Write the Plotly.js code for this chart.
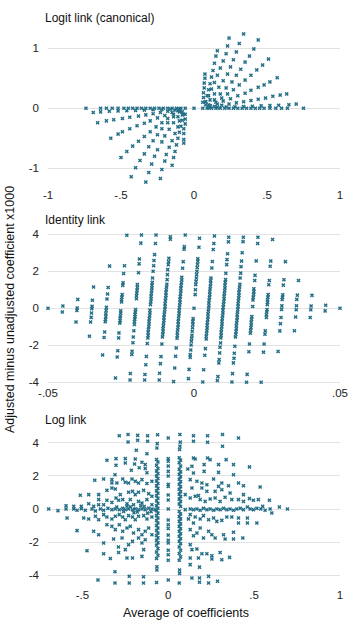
<!DOCTYPE html>
<html>
<head>
<meta charset="utf-8">
<script src="https://cdn.plot.ly/plotly-3.0.1.min.js"></script>
<style>
  body { margin: 0; background: #fff; }
  #chart { width: 360px; height: 630px; }
</style>
</head>
<body>
<div id="chart"></div>
<script>
// ---- data: [average of coefficients, adjusted - unadjusted x1000] ----

// logit link, negative side (rays fanning down-left)
const logitLeft = [
  [-0.74,0],[-0.64,0],[-0.6,0],[-0.56,0],[-0.52,0],[-0.48,0],[-0.45,0],[-0.42,0],[-0.39,0],[-0.36,0],
  [-0.33,0],[-0.3,0],[-0.27,0],[-0.24,0],[-0.21,0],[-0.18,0],[-0.15,0],[-0.12,0],[-0.09,0],[-0.06,0],
  [-0.69,-0.07],[-0.64,-0.06],[-0.58,-0.05],[-0.52,-0.045],[-0.46,-0.04],[-0.4,-0.035],[-0.34,-0.03],[-0.28,-0.025],[-0.22,-0.02],[-0.16,-0.015],[-0.1,-0.01],
  [-0.66,-0.24],[-0.6,-0.21],[-0.55,-0.19],[-0.49,-0.17],[-0.44,-0.15],[-0.38,-0.13],[-0.33,-0.11],[-0.28,-0.09],[-0.23,-0.07],[-0.18,-0.05],[-0.13,-0.03],
  [-0.57,-0.5],[-0.52,-0.43],[-0.49,-0.39],[-0.44,-0.34],[-0.39,-0.29],[-0.34,-0.25],[-0.3,-0.21],[-0.25,-0.16],[-0.2,-0.12],[-0.15,-0.07],[-0.11,-0.04],
  [-0.5,-0.82],[-0.46,-0.72],[-0.42,-0.63],[-0.38,-0.55],[-0.34,-0.47],[-0.3,-0.39],[-0.26,-0.31],[-0.22,-0.24],[-0.18,-0.17],[-0.14,-0.1],[-0.1,-0.04],
  [-0.43,-1.14],[-0.4,-0.99],[-0.37,-0.87],[-0.34,-0.76],[-0.31,-0.64],[-0.28,-0.54],[-0.25,-0.44],[-0.22,-0.34],[-0.18,-0.24],[-0.14,-0.14],[-0.1,-0.06],
  [-0.33,-1.23],[-0.31,-1.07],[-0.29,-0.93],[-0.27,-0.8],[-0.25,-0.69],[-0.22,-0.56],[-0.2,-0.46],[-0.17,-0.35],[-0.14,-0.24],[-0.11,-0.14],[-0.08,-0.06],
  [-0.23,-1.17],[-0.22,-1.02],[-0.2,-0.88],[-0.19,-0.77],[-0.17,-0.65],[-0.15,-0.54],[-0.13,-0.42],[-0.11,-0.31],[-0.1,-0.21],[-0.08,-0.11],
  [-0.15,-0.95],[-0.14,-0.82],[-0.13,-0.72],[-0.12,-0.61],[-0.11,-0.5],[-0.1,-0.4],[-0.09,-0.3],[-0.08,-0.2],[-0.07,-0.1],
  [-0.07,-0.58],[-0.07,-0.52],[-0.07,-0.42],[-0.07,-0.34],[-0.06,-0.26],[-0.06,-0.18],[-0.06,-0.1]
]

// logit link, positive side (rays fanning up-right)
const logitRight = [
  [0,0],
  [0.06,0],[0.09,0],[0.12,0],[0.15,0],[0.18,0],[0.21,0],[0.24,0],[0.27,0],[0.3,0],[0.33,0],
  [0.36,0],[0.39,0],[0.42,0],[0.45,0],[0.48,0],[0.52,0],[0.56,0],[0.6,0],[0.64,0],[0.75,0],
  [0.7,0.07],[0.65,0.06],[0.58,0.05],[0.52,0.045],[0.46,0.04],[0.4,0.035],[0.34,0.03],[0.28,0.025],[0.22,0.02],[0.16,0.015],[0.1,0.01],
  [0.635,0.24],[0.59,0.22],[0.54,0.2],[0.49,0.17],[0.44,0.15],[0.39,0.13],[0.34,0.11],[0.29,0.09],[0.24,0.07],[0.19,0.05],[0.14,0.03],
  [0.57,0.51],[0.52,0.44],[0.48,0.39],[0.44,0.35],[0.39,0.3],[0.35,0.25],[0.3,0.21],[0.25,0.16],[0.2,0.12],[0.16,0.07],[0.11,0.04],
  [0.51,0.82],[0.47,0.72],[0.43,0.64],[0.39,0.55],[0.35,0.47],[0.31,0.39],[0.27,0.31],[0.23,0.24],[0.19,0.17],[0.15,0.1],[0.11,0.04],
  [0.44,1.14],[0.41,0.99],[0.38,0.87],[0.35,0.77],[0.32,0.65],[0.29,0.55],[0.26,0.44],[0.22,0.34],[0.18,0.24],[0.14,0.14],[0.1,0.06],
  [0.34,1.24],[0.31,1.08],[0.29,0.94],[0.27,0.81],[0.25,0.69],[0.23,0.57],[0.2,0.46],[0.17,0.35],[0.14,0.24],[0.11,0.14],[0.08,0.06],
  [0.24,1.17],[0.23,1.04],[0.22,0.91],[0.2,0.79],[0.18,0.67],[0.16,0.55],[0.14,0.43],[0.12,0.32],[0.1,0.21],[0.08,0.11],
  [0.16,0.96],[0.15,0.87],[0.14,0.75],[0.13,0.63],[0.12,0.52],[0.11,0.41],[0.1,0.31],[0.09,0.21],[0.08,0.11],
  [0.075,0.57],[0.075,0.5],[0.07,0.42],[0.07,0.34],[0.065,0.26],[0.065,0.18],[0.06,0.1]
]

// identity link, columns left of zero
const identityNeg = [
  [-0.05,0],
  [-0.0449,0.12],[-0.0451,-0.2],
  [-0.0398,0.48],[-0.04,0.02],[-0.0401,-0.12],[-0.0404,-0.74],
  [-0.0344,1.15],[-0.0348,0.43],[-0.0349,0.11],[-0.035,-0.02],[-0.0351,-0.25],[-0.0352,-0.49],[-0.0354,-0.74],[-0.0358,-1.51],
  [-0.0289,2.28],[-0.0294,1.12],[-0.0296,0.77],[-0.0298,0.5],[-0.03,0.05],[-0.0301,-0.12],[-0.0302,-0.3],[-0.0302,-0.45],[-0.0303,-0.6],[-0.0304,-0.72],[-0.0306,-1.28],[-0.0308,-1.58],[-0.0313,-2.52],
  [-0.023,3.95],[-0.0238,2.3],[-0.0241,1.88],[-0.0243,1.38],[-0.0244,1.24],[-0.0246,0.74],[-0.0247,0.6],[-0.0248,0.46],[-0.0248,0.34],[-0.0251,-0.13],[-0.0251,-0.27],[-0.0252,-0.4],[-0.0253,-0.54],[-0.0253,-0.67],[-0.0254,-0.8],[-0.0257,-1.33],[-0.0258,-1.6],[-0.0261,-2.29],[-0.0263,-2.63],[-0.0269,-3.77],
  [-0.018,3.96],[-0.0182,3.52],[-0.0187,2.66],[-0.0188,2.4],[-0.019,1.92],[-0.0194,1.28],[-0.0194,1.12],[-0.0195,0.97],[-0.0196,0.82],[-0.0197,0.67],[-0.0197,0.52],[-0.02,-0.07],[-0.0201,-0.2],[-0.0202,-0.33],[-0.0202,-0.46],[-0.0203,-0.59],[-0.0204,-0.72],[-0.0204,-0.88],[-0.0206,-1.21],[-0.0208,-1.55],[-0.0209,-1.86],[-0.0212,-2.32],[-0.0213,-2.5],[-0.0218,-3.52],[-0.0219,-3.87],
  [-0.013,3.96],[-0.0132,3.5],[-0.0135,2.9],[-0.0137,2.58],[-0.0138,2.3],[-0.014,2.0],[-0.0142,1.64],[-0.0143,1.4],[-0.0144,1.25],[-0.0144,1.1],[-0.0145,0.95],[-0.0146,0.8],[-0.0147,0.65],[-0.0147,0.5],[-0.0148,0.35],[-0.0149,0.2],[-0.0151,-0.1],[-0.0151,-0.25],[-0.0152,-0.4],[-0.0153,-0.55],[-0.0154,-0.7],[-0.0154,-0.85],[-0.0155,-1.0],[-0.0156,-1.15],[-0.0157,-1.3],[-0.0157,-1.45],[-0.0158,-1.6],[-0.016,-1.9],[-0.0163,-2.6],[-0.0165,-3.05],[-0.0168,-3.58],[-0.0169,-3.87],
  [-0.0081,3.87],[-0.0081,3.73],[-0.0086,2.7],[-0.0087,2.52],[-0.0088,2.36],[-0.009,2.09],[-0.0091,1.82],[-0.0092,1.55],[-0.0093,1.3],[-0.0094,1.15],[-0.0095,1.0],[-0.0096,0.85],[-0.0096,0.7],[-0.0097,0.55],[-0.0098,0.4],[-0.0099,0.25],[-0.0099,0.1],[-0.01,-0.05],[-0.0101,-0.2],[-0.0102,-0.35],[-0.0103,-0.5],[-0.0103,-0.65],[-0.0104,-0.8],[-0.0105,-0.95],[-0.0106,-1.1],[-0.0106,-1.25],[-0.0107,-1.4],[-0.0108,-1.55],[-0.011,-1.93],[-0.0113,-2.61],[-0.0115,-2.99],[-0.0118,-3.51],[-0.0119,-3.87],
  [-0.003,3.96],[-0.0033,3.33],[-0.0034,3.19],[-0.0037,2.52],[-0.0039,2.16],[-0.0042,1.68],[-0.0042,1.53],[-0.0043,1.38],[-0.0044,1.23],[-0.0045,1.08],[-0.0045,0.93],[-0.0046,0.78],[-0.0047,0.63],[-0.0048,0.48],[-0.0048,0.33],[-0.0049,0.18],[-0.005,0.03],[-0.0051,-0.12],[-0.0051,-0.27],[-0.0052,-0.42],[-0.0053,-0.57],[-0.0054,-0.72],[-0.0054,-0.87],[-0.0055,-1.02],[-0.0056,-1.17],[-0.0057,-1.32],[-0.0057,-1.47],[-0.0058,-1.62],[-0.0061,-2.14],[-0.0063,-2.59],[-0.0066,-3.23],[-0.007,-3.96]
]

// identity link, zero column and columns right of zero
const identityPos = [
  [0.0019,3.78],[0.0017,3.3],[0.0013,2.68],[0.0013,2.54],[0.0012,2.38],[0.0011,2.2],[0.001,2.0],[0.0009,1.82],[0.0008,1.64],[0.0007,1.46],[0.0006,1.28],[0.0005,1.0],[0.0004,0.74],[0,0],[-0.0003,-0.56],[-0.0004,-0.72],[-0.0004,-0.88],[-0.0005,-1.05],[-0.0006,-1.24],[-0.0007,-1.46],[-0.0008,-1.62],[-0.0009,-1.78],[-0.001,-1.98],[-0.0011,-2.25],[-0.0013,-2.5],[-0.0013,-2.65],[-0.0017,-3.3],[-0.0019,-3.8],
  [0.007,3.91],[0.0068,3.5],[0.0066,3.18],[0.0063,2.53],[0.0061,2.18],[0.0058,1.64],[0.0057,1.49],[0.0057,1.34],[0.0056,1.19],[0.0055,1.04],[0.0054,0.89],[0.0054,0.74],[0.0053,0.59],[0.0052,0.44],[0.0051,0.29],[0.0051,0.14],[0.005,-0.01],[0.0049,-0.16],[0.0048,-0.31],[0.0048,-0.46],[0.0047,-0.61],[0.0046,-0.76],[0.0045,-0.91],[0.0045,-1.06],[0.0044,-1.21],[0.0043,-1.36],[0.0042,-1.51],[0.0042,-1.66],[0.0039,-2.18],[0.0037,-2.54],[0.0033,-3.32],[0.003,-3.98],
  [0.0119,3.84],[0.0118,3.59],[0.0115,2.95],[0.0113,2.63],[0.0112,2.36],[0.0109,1.89],[0.0108,1.55],[0.0107,1.4],[0.0106,1.25],[0.0106,1.1],[0.0105,0.95],[0.0104,0.8],[0.0103,0.65],[0.0103,0.5],[0.0102,0.35],[0.0101,0.2],[0.01,0.05],[0.0099,-0.1],[0.0099,-0.25],[0.0098,-0.4],[0.0097,-0.55],[0.0096,-0.7],[0.0096,-0.85],[0.0095,-1.0],[0.0094,-1.15],[0.0093,-1.3],[0.0093,-1.45],[0.0092,-1.6],[0.0091,-1.87],[0.0089,-2.1],[0.0088,-2.41],[0.0086,-2.77],[0.0085,-2.95],[0.0082,-3.69],[0.008,-3.9],
  [0.0169,3.84],[0.0168,3.6],[0.0165,3.0],[0.0163,2.55],[0.0161,2.25],[0.016,1.9],[0.0158,1.64],[0.0157,1.3],[0.0156,1.15],[0.0155,1.0],[0.0154,0.85],[0.0154,0.7],[0.0153,0.55],[0.0152,0.4],[0.0151,0.25],[0.0151,0.1],[0.015,-0.05],[0.0149,-0.2],[0.0148,-0.35],[0.0148,-0.5],[0.0147,-0.65],[0.0146,-0.8],[0.0145,-0.95],[0.0145,-1.1],[0.0144,-1.25],[0.0143,-1.4],[0.0142,-1.55],[0.014,-2.05],[0.0138,-2.43],[0.0137,-2.7],[0.0135,-2.95],[0.0132,-3.53],[0.013,-3.98],
  [0.0219,3.84],[0.0218,3.5],[0.0213,2.56],[0.0209,1.78],[0.0208,1.5],[0.0205,1.05],[0.0205,0.9],[0.0204,0.75],[0.0203,0.6],[0.0202,0.45],[0.0201,0.1],[0.0198,-0.45],[0.0197,-0.6],[0.0196,-0.75],[0.0196,-0.9],[0.0195,-1.05],[0.0194,-1.2],[0.0193,-1.35],[0.019,-1.93],[0.0188,-2.35],[0.0182,-3.57],[0.018,-4.0],
  [0.0269,3.72],[0.0263,2.55],[0.0261,2.27],[0.0258,1.5],[0.0256,1.27],[0.0254,0.74],[0.0253,0.6],[0.0252,0.46],[0.0252,0.32],[0.0251,0.2],[0.025,-0.07],[0.0249,-0.2],[0.0248,-0.35],[0.0248,-0.5],[0.0244,-1.22],[0.0243,-1.4],[0.024,-1.93],[0.0238,-2.37],[0.023,-4.0],
  [0.0313,2.52],[0.0308,1.54],[0.0306,1.25],[0.0304,0.73],[0.0303,0.6],[0.0302,0.48],[0.0301,0.13],[0.03,-0.06],[0.0298,-0.5],[0.0296,-0.83],[0.0294,-1.22],[0.0288,-2.33],
  [0.0358,1.5],[0.0354,0.71],[0.0352,0.48],[0.0351,0.14],[0.035,-0.08],[0.0348,-0.47],[0.0344,-1.21],
  [0.0404,0.7],[0.0401,0.12],[0.04,-0.08],[0.0398,-0.5],
  [0.0451,0.16],[0.0449,-0.14],
  [0.05,0]
]

// log link, the three vertical stacks near zero
const logColumns = [
  [-0.062,4.5],[-0.064,3.96],[-0.066,3.7],[-0.068,3.0],[-0.06,2.85],[-0.068,2.65],[-0.06,2.45],[-0.068,2.3],[-0.06,2.15],[-0.068,2.0],[-0.06,1.85],[-0.068,1.7],[-0.06,1.55],[-0.068,1.4],[-0.06,1.25],[-0.068,1.1],[-0.06,0.95],[-0.068,0.8],[-0.06,0.65],[-0.068,0.5],[-0.06,0.35],[-0.068,0.2],[-0.06,0.05],[-0.068,-0.1],[-0.06,-0.25],[-0.068,-0.4],[-0.06,-0.55],[-0.068,-0.7],[-0.06,-0.85],[-0.068,-1.0],[-0.06,-1.15],[-0.068,-1.3],[-0.06,-1.45],[-0.068,-1.6],[-0.06,-1.75],[-0.068,-1.9],[-0.06,-2.05],[-0.068,-2.2],[-0.06,-2.4],[-0.068,-2.6],[-0.06,-2.8],[-0.068,-3.0],[-0.066,-3.5],[-0.066,-3.7],[-0.068,-4.45],
  [0,4.3],[0,3.05],[0,2.9],[0,2.6],[0,2.28],[0,2.0],[0,1.5],[0,1.36],[0,0.85],[0,0.55],[0,0],[0,-0.67],[0,-0.95],[0,-1.18],[0,-1.58],[0,-1.89],[0,-2.06],[0,-2.5],[0,-2.77],[0,-3.1],[0,-4.3],
  [0.068,4.51],[0.07,4.05],[0.068,3.8],[0.066,3.6],[0.064,3.1],[0.072,2.95],[0.064,2.8],[0.072,2.6],[0.064,2.4],[0.072,2.25],[0.064,2.1],[0.072,1.95],[0.064,1.8],[0.072,1.65],[0.064,1.5],[0.072,1.35],[0.064,1.2],[0.072,1.05],[0.064,0.9],[0.072,0.75],[0.064,0.6],[0.072,0.45],[0.064,0.3],[0.072,0.15],[0.064,-0.15],[0.072,-0.3],[0.064,-0.45],[0.072,-0.6],[0.064,-0.75],[0.072,-0.9],[0.064,-1.05],[0.072,-1.2],[0.064,-1.35],[0.072,-1.5],[0.064,-1.65],[0.072,-1.8],[0.064,-1.95],[0.072,-2.1],[0.064,-2.3],[0.072,-2.5],[0.064,-2.7],[0.072,-2.9],[0.064,-3.1],[0.066,-3.7],[0.066,-3.9],[0.064,-4.48]
]

// log link, scatter left of the stacks
const logLeft = [
  [-0.285,4.44],[-0.234,4.51],[-0.234,4.06],[-0.178,4.46],[-0.178,4.16],[-0.12,4.44],[-0.12,4.1],
  [-0.186,3.56],[-0.124,3.35],
  [-0.357,2.95],[-0.304,3.05],[-0.304,2.65],[-0.25,3.05],[-0.25,2.79],[-0.192,3.03],[-0.196,2.73],[-0.153,2.83],[-0.134,2.69],
  [-0.31,2.07],[-0.215,2.35],[-0.169,2.5],[-0.134,2.45],[-0.124,2.2],
  [-0.428,1.74],[-0.376,1.82],[-0.328,1.78],[-0.328,1.58],[-0.299,1.58],[-0.265,1.82],[-0.25,1.62],[-0.231,1.58],[-0.211,1.82],[-0.192,1.68],[-0.173,1.58],[-0.153,1.78],[-0.124,1.54],[-0.095,1.68],
  [-0.512,0.83],[-0.463,0.87],[-0.405,0.87],[-0.405,0.57],[-0.357,1.13],[-0.328,1.27],[-0.308,1.21],[-0.279,0.87],[-0.231,1.01],[-0.208,1.07],[-0.192,0.87],[-0.173,1.01],[-0.143,1.13],[-0.114,0.93],[-0.095,0.77],
  [-0.595,0.2],[-0.55,0.16],[-0.506,0.16],[-0.463,0.32],[-0.434,0.16],[-0.405,0.26],[-0.376,0.26],[-0.357,0.53],[-0.328,0.4],[-0.304,0.67],[-0.289,0.53],[-0.265,0.57],[-0.24,0.32],[-0.221,0.57],[-0.202,0.26],[-0.173,0.46],[-0.153,0.36],[-0.124,0.57],[-0.095,0.26],
  [-0.696,0],[-0.642,-0.1],[-0.595,0],[-0.55,0],[-0.531,-0.08],[-0.506,0.02],[-0.483,-0.08],[-0.444,0],[-0.424,-0.12],[-0.395,0],[-0.376,-0.08],[-0.351,0.04],[-0.328,-0.04],[-0.308,0],[-0.285,-0.04],[-0.265,0.04],[-0.25,-0.04],[-0.231,0],[-0.208,-0.04],[-0.192,0.02],[-0.173,-0.04],[-0.153,0],[-0.134,-0.04],[-0.114,0.04],[-0.095,0],[-0.076,-0.04],
  [-0.3,0.12],[-0.26,-0.15],[-0.22,0.14],[-0.18,-0.18],[-0.14,0.15],[-0.1,-0.16],[-0.16,0.2],[-0.12,-0.25],[-0.2,-0.22],[-0.24,0.18],
  [-0.589,-0.55],[-0.492,-0.55],[-0.463,-0.61],[-0.424,-0.44],[-0.405,-0.65],[-0.376,-0.34],[-0.357,-0.48],[-0.328,-0.61],[-0.308,-0.44],[-0.285,-0.34],[-0.265,-0.48],[-0.25,-0.65],[-0.231,-0.4],[-0.208,-0.48],[-0.192,-0.65],[-0.173,-0.44],[-0.143,-0.4],[-0.124,-0.61],[-0.095,-0.48],
  [-0.531,-1.31],[-0.434,-1.35],[-0.405,-1.56],[-0.357,-0.95],[-0.328,-1.05],[-0.308,-1.25],[-0.285,-0.95],[-0.265,-1.35],[-0.24,-1.15],[-0.221,-1.05],[-0.202,-1.45],[-0.173,-1.25],[-0.153,-1.56],[-0.134,-1.35],[-0.114,-1.15],[-0.095,-1.56],
  [-0.376,-2.06],[-0.318,-1.82],[-0.269,-1.76],[-0.231,-2.16],[-0.208,-1.96],[-0.173,-1.76],[-0.153,-2.06],[-0.134,-1.86],
  [-0.473,-2.53],[-0.376,-2.71],[-0.289,-2.63],[-0.25,-2.46],[-0.24,-2.97],[-0.208,-2.97],[-0.153,-2.87],[-0.143,-2.46],[-0.337,-3.0],[-0.29,-2.3],
  [-0.409,-4.3],[-0.31,-3.8],[-0.31,-4.48],[-0.227,-4.07],[-0.227,-4.48],[-0.144,-4.1],[-0.144,-4.48]
]

// log link, scatter right of the stacks
const logRight = [
  [0.147,4.44],[0.229,4.44],[0.316,4.51],[0.409,4.3],[0.147,4.1],[0.229,4.04],[0.316,3.8],
  [0.147,3.09],[0.157,3.03],[0.229,3.09],[0.244,2.99],[0.209,2.69],[0.293,2.69],[0.337,2.99],[0.38,2.69],[0.473,2.55],[0.209,2.28],[0.293,2.22],[0.38,2.08],[0.138,2.59],[0.147,2.18],[0.114,2.42],
  [0.128,1.78],[0.167,1.68],[0.196,1.58],[0.225,1.47],[0.264,1.82],[0.293,1.37],[0.312,1.58],[0.351,1.41],[0.409,1.58],[0.438,1.41],[0.535,1.33],[0.138,1.27],[0.196,1.27],[0.225,1.07],[0.273,1.07],[0.312,1.17],[0.36,0.97],[0.438,0.87],[0.176,0.81],[0.099,0.87],
  [0.128,0.67],[0.157,0.77],[0.186,0.57],[0.215,0.46],[0.244,0.61],[0.273,0.67],[0.302,0.46],[0.331,0.71],[0.37,0.57],[0.409,0.57],[0.438,0.46],[0.473,0.63],[0.496,0.53],[0.525,0.57],[0.589,0.53],
  [0.099,-0.04],[0.128,0],[0.147,-0.04],[0.167,0],[0.186,-0.08],[0.205,0.04],[0.225,-0.04],[0.244,0],[0.264,-0.08],[0.283,0],[0.302,-0.04],[0.322,0.04],[0.341,-0.04],[0.36,0],[0.38,-0.08],[0.399,0],[0.419,0.04],[0.438,-0.04],[0.461,0.12],[0.477,0],[0.496,-0.04],[0.516,0.04],[0.539,0],[0.564,-0.08],[0.593,0],[0.647,0.12],[0.694,0],[0.55,0.16],[0.603,-0.24],
  [0.118,-0.6],[0.128,-0.34],[0.157,-0.48],[0.186,-0.61],[0.205,-0.4],[0.235,-0.65],[0.264,-0.55],[0.283,-0.75],[0.312,-0.69],[0.341,-0.48],[0.37,-0.48],[0.409,-0.55],[0.409,-0.85],[0.461,-0.55],[0.461,-0.85],[0.516,-0.85],[0.147,-0.85],
  [0.128,-1.25],[0.147,-1.62],[0.167,-1.45],[0.186,-1.15],[0.205,-1.76],[0.235,-1.35],[0.254,-1.56],[0.273,-1.76],[0.322,-1.56],[0.331,-1.82],[0.38,-1.41],[0.38,-1.82],[0.434,-1.76],
  [0.128,-2.16],[0.138,-2.46],[0.167,-2.42],[0.196,-2.71],[0.225,-2.71],[0.254,-2.83],[0.254,-3.03],[0.302,-2.63],[0.312,-3.07],[0.357,-2.93],[0.128,-2.97],[0.176,-2.97],
  [0.128,-3.37],[0.182,-3.52],[0.138,-4.18],[0.182,-4.18],[0.182,-4.44],[0.235,-4.08],[0.235,-4.48],[0.287,-4.38]
]

// tick values and labels
const logitTickX = [-1, -0.5, 0, 0.5, 1]
const logitTickXText = ['-1', '-.5', '0', '.5', '1']
const logitTickY = [-1, 0, 1]
const logitTickYText = ['-1', '0', '1']
const identityTickX = [-0.05, 0, 0.05]
const identityTickXText = ['-.05', '0', '.05']
const fourTickY = [-4, -2, 0, 2, 4]
const fourTickYText = ['-4', '-2', '0', '2', '4']
const logTickX = [-0.5, 0, 0.5, 1]
const logTickXText = ['-.5', '0', '.5', '1']

const teal = '#246f87'
const gridGrey = '#e2e2e2'

const config = {
  staticPlot: true,
  displayModeBar: false,
  displaylogo: false
}

const toTrace = (pts, xaxis, yaxis) => {
  return {
    x: pts.map(p => p[0]),
    y: pts.map(p => p[1]),
    type: 'scatter',
    mode: 'markers',
    xaxis: xaxis,
    yaxis: yaxis,
    cliponaxis: false,
    hoverinfo: 'skip',
    marker: { symbol: 'x', size: 3.6, color: teal, line: { width: 0 } }
  }
}

const xAxis = (range, vals, text, anchor) => ({
  range: range,
  anchor: anchor,
  tickvals: vals,
  ticktext: text,
  showgrid: false,
  zeroline: false,
  showline: false,
  ticks: '',
  automargin: false,
  tickfont: { size: 11.5, color: '#222' }
})

const yAxis = (range, domain, vals, text, anchor) => ({
  range: range,
  domain: domain,
  anchor: anchor,
  tickvals: vals,
  ticktext: text,
  showgrid: true,
  gridcolor: gridGrey,
  gridwidth: 1,
  zeroline: false,
  showline: false,
  ticks: '',
  ticklabelstandoff: 8,
  automargin: false,
  tickfont: { size: 11.5, color: '#222' }
})

const panelTitle = (text, y) => ({
  text: text,
  xref: 'paper', yref: 'paper',
  x: -0.017, y: y,
  xanchor: 'left', yanchor: 'middle',
  showarrow: false,
  font: { size: 12, color: '#111' }
})

const plotAll = (htmlId) => {
  const data = [
    toTrace(logitLeft, 'x', 'y'),
    toTrace(logitRight, 'x', 'y'),
    toTrace(identityNeg, 'x2', 'y2'),
    toTrace(identityPos, 'x2', 'y2'),
    toTrace(logLeft, 'x3', 'y3'),
    toTrace(logColumns, 'x3', 'y3'),
    toTrace(logRight, 'x3', 'y3')
  ]

  const layout = {
    width: 360,
    height: 630,
    margin: { l: 48, r: 20, t: 0, b: 0 },
    showlegend: false,
    paper_bgcolor: '#ffffff',
    plot_bgcolor: '#ffffff',
    font: { family: 'Liberation Sans, Arial, sans-serif', size: 11.5, color: '#222' },
    xaxis: xAxis([-1, 1], logitTickX, logitTickXText, 'y'),
    yaxis: yAxis([-1.3, 1.3], [0.7043, 0.9519], logitTickY, logitTickYText, 'x'),
    xaxis2: xAxis([-0.05, 0.05], identityTickX, identityTickXText, 'y2'),
    yaxis2: yAxis([-4.1, 4.1], [0.3902, 0.6311], fourTickY, fourTickYText, 'x2'),
    xaxis3: xAxis([-0.7, 1], logTickX, logTickXText, 'y3'),
    yaxis3: yAxis([-4.7, 4.7], [0.0689, 0.3152], fourTickY, fourTickYText, 'x3'),
    annotations: [
      panelTitle('Logit link (canonical)', 0.9714),
      panelTitle('Identity link', 0.6508),
      panelTitle('Log link', 0.3333),
      {
        text: 'Adjusted minus unadjusted coefficient x1000',
        xref: 'paper', yref: 'paper',
        x: -0.13, y: 0.508,
        xanchor: 'center', yanchor: 'middle',
        textangle: -90,
        showarrow: false,
        font: { size: 12.5, color: '#111' }
      },
      {
        text: 'Average of coefficients',
        xref: 'paper', yref: 'paper',
        x: 0.4726, y: 0.027,
        xanchor: 'center', yanchor: 'middle',
        showarrow: false,
        font: { size: 12.5, color: '#111' }
      }
    ]
  }

  Plotly.newPlot(htmlId, data, layout, config)
}

plotAll('chart')
</script>
</body>
</html>
